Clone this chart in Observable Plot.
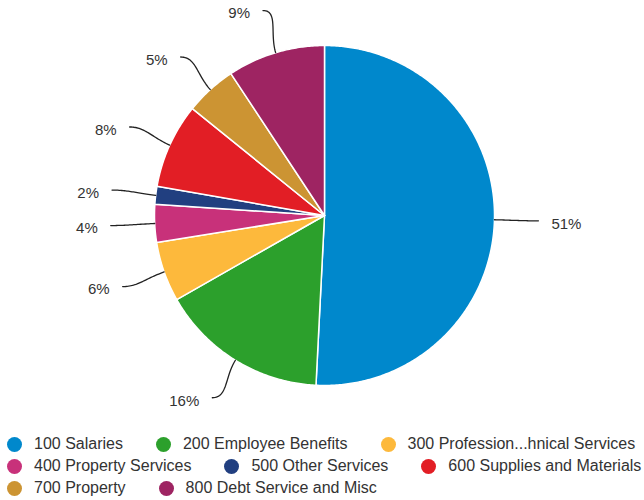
<!DOCTYPE html>
<html><head><meta charset="utf-8">
<script src="https://cdn.jsdelivr.net/npm/d3@7"></script>
<script src="https://cdn.jsdelivr.net/npm/@observablehq/plot@0.6"></script>
<style>
body{margin:0;background:#fff;font-family:"Liberation Sans",Arial,sans-serif;}
#legend{display:flex;flex-wrap:wrap;column-gap:33px;width:660px;padding:3px 0 0 7px;box-sizing:border-box;font-size:16px;color:#333;line-height:22px;}
.item{display:flex;align-items:center;white-space:nowrap;}
.sw{width:15px;height:15px;border-radius:50%;margin-right:12px;flex:none;}
</style></head><body>
<div id="chart"></div><div id="legend"></div>
<script>
const categories = ["100 Salaries","200 Employee Benefits","300 Profession...hnical Services","400 Property Services","500 Other Services","600 Supplies and Materials","700 Property","800 Debt Service and Misc"];
const values = [50.9, 16.0, 5.7, 3.6, 1.7, 8.1, 4.9, 9.3];
const colors = ["#0088cc","#2ca02c","#fdb93c","#c8317a","#213f80","#e21e25","#cc9433","#9e2462"];

const W = 644, H = 430, CX = 324, CY = 215, R = 170;
const total = d3.sum(values);
const arcs = d3.pie().sort(null).value(d => d)(values);
const pt = (a, r) => [r * Math.sin(a), r * Math.cos(a)];

// wedge polygons (unit radius)
const wedges = [];
arcs.forEach((a, i) => {
  const n = Math.max(4, Math.ceil((a.endAngle - a.startAngle) / 0.01));
  wedges.push({cat: categories[i], x: 0, y: 0});
  for (let k = 0; k <= n; k++) {
    const t = a.startAngle + (a.endAngle - a.startAngle) * k / n;
    const [x, y] = pt(t, 1);
    wedges.push({cat: categories[i], x, y});
  }
});

// leader lines + labels
const leaders = [], labels = [];
const rEnd = 214 / R;
arcs.forEach((a, i) => {
  const m = (a.startAngle + a.endAngle) / 2;
  const side = Math.sin(m) >= 0 ? 1 : -1;
  const p0 = pt(m, 1), p1 = pt(m, 1.12), p3 = pt(m, rEnd);
  const p2 = [p3[0] - side * 0.09, p3[1]];
  for (let k = 0; k <= 30; k++) {
    const t = k / 30, u = 1 - t;
    const x = u*u*u*p0[0] + 3*u*u*t*p1[0] + 3*u*t*t*p2[0] + t*t*t*p3[0];
    const y = u*u*u*p0[1] + 3*u*u*t*p1[1] + 3*u*t*t*p2[1] + t*t*t*p3[1];
    leaders.push({cat: categories[i], x, y});
  }
  labels.push({x: p3[0], y: p3[1], side, text: Math.round(values[i] / total * 100) + "%"});
});

const chart = Plot.plot({
  width: W, height: H, margin: 0,
  x: {domain: [-CX / R, (W - CX) / R], axis: null},
  y: {domain: [-(H - CY) / R, CY / R], axis: null},
  color: {domain: categories, range: colors},
  style: {fontFamily: '"Liberation Sans", Arial, sans-serif', background: "#fff"},
  marks: [
    Plot.line(wedges, {x: "x", y: "y", z: "cat", fill: "cat", stroke: "white", strokeWidth: 1.5, curve: "linear-closed"}),
    Plot.line(leaders, {x: "x", y: "y", z: "cat", stroke: "#222", strokeWidth: 1.3}),
    Plot.text(labels.filter(d => d.side > 0), {x: "x", y: "y", text: "text", textAnchor: "start", dx: 13, dy: 3, fontSize: 15, fill: "#333"}),
    Plot.text(labels.filter(d => d.side < 0), {x: "x", y: "y", text: "text", textAnchor: "end", dx: -13, dy: 3, fontSize: 15, fill: "#333"})
  ]
});
document.getElementById("chart").append(chart);

const legend = document.getElementById("legend");
categories.forEach((c, i) => {
  const it = document.createElement("div");
  it.className = "item";
  const sw = document.createElement("span");
  sw.className = "sw";
  sw.style.background = colors[i];
  const tx = document.createElement("span");
  tx.textContent = c;
  it.append(sw, tx);
  legend.append(it);
});
</script>
</body></html>
